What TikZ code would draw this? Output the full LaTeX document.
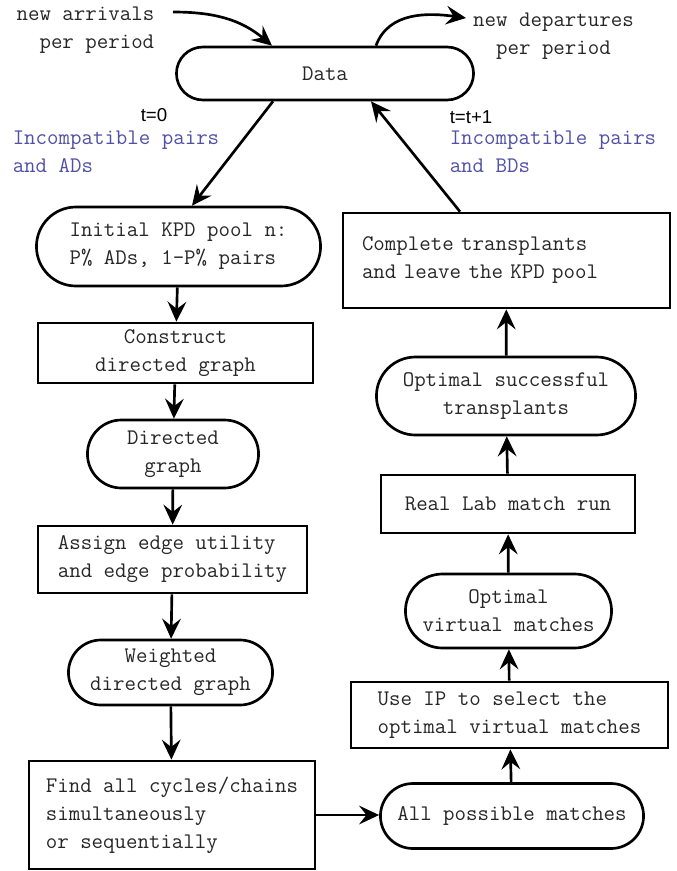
\documentclass[tikz,border=0pt]{standalone}
\usepackage{fontspec}
\setsansfont{Liberation Sans}
\usepackage{tikz}
\usetikzlibrary{calc,shapes.misc,arrows.meta}
\definecolor{pairblue}{RGB}{80,80,165}

\begin{document}
\begin{tikzpicture}[x=0.75pt,y=-0.75pt,line width=2pt,
  every node/.style={font=\ttfamily\fontsize{16.7}{21}\selectfont,text=black!85},
  box/.style={draw=black,rectangle,align=left},
  pill/.style={draw=black,rounded rectangle,align=center},
  tlabel/.style={font=\sffamily\fontsize{14}{16}\selectfont,text=black},
  blue/.style={text=pairblue,align=left},
  arr/.style={-{Stealth[length=15pt,width=14pt,inset=5.5pt]}}]
\useasboundingbox (0,0) rectangle (676,871);
% data node and outside flows
\node[pill,minimum width=229.5pt,minimum height=39.75pt](data) at (325,73.5){Data};
\node[anchor=east,align=right](arrivals) at (160,30.5){new arrivals\\per period};
\node[align=center](departures) at (553.5,36.5){new departures\\per period};
\coordinate (arrin) at (173,12);
\coordinate (depout) at (466,18);
\draw[arr](arrin) to[out=0,in=140] ($(data.north)+(-53,0)$);
\draw[arr]($(data.north)+(51,0)$) to[out=70,in=172] (depout);
\node[tlabel](t0) at (154,115){t=0};
\node[tlabel,anchor=west](t1) at (444,117){t=t+1};
\node[blue,anchor=west](inleft) at (7,151.5){Incompatible pairs\\and ADs};
\node[blue,anchor=west](inright) at (444,151.5){Incompatible pairs\\and BDs};
% left column
\node[pill,align=left,minimum width=219.75pt,minimum height=59.25pt](pool) at (178.5,246.5){Initial KPD pool n:\\P\% ADs, 1-P\% pairs};
\node[box,align=center,minimum width=206.25pt,minimum height=45pt](construct) at (175.5,353){Construct\\directed graph};
\node[pill,minimum width=135pt,minimum height=51pt](directed) at (173,454){Directed\\graph};
\node[box,minimum width=201.75pt,minimum height=50.25pt](assign) at (172.5,559.5){Assign edge utility\\and edge probability};
\node[pill,minimum width=159.75pt,minimum height=48.75pt](weighted) at (170.5,672.5){Weighted\\directed graph};
\node[box,minimum width=214.5pt,minimum height=81pt](find) at (172,815){Find all cycles/chains\\simultaneously\\or sequentially};
% right column
\node[pill,minimum width=204pt,minimum height=48.75pt](allpos) at (512,816){All possible matches};
\node[box,minimum width=237.75pt,minimum height=49.5pt](useip) at (509.5,715){Use IP to select the\\optimal virtual matches};
\node[pill,minimum width=161.25pt,minimum height=55.5pt](optvirt) at (508.5,611){Optimal\\virtual matches};
\node[box,align=center,minimum width=190.5pt,minimum height=43.5pt](reallab) at (508,504){Real Lab match run};
\node[pill,minimum width=201pt,minimum height=58.5pt](optsucc) at (506,396){Optimal successful\\transplants};
\node[box,text width=216.75pt,inner xsep=14.25pt,minimum height=71.25pt](complete) at (506.5,260.5){Complete transplants\\and leave the KPD pool};
% connectors
\draw[arr]($(data.south)+(-52,0)$)--($(pool.north)+(13.5,0)$);
\draw[arr](pool)--(construct);
\draw[arr](construct)--(directed);
\draw[arr](directed)--(assign);
\draw[arr](assign)--(weighted);
\draw[arr](weighted)--(find);
\draw[arr](find.east)--(find.east-|allpos.west);
\draw[arr](allpos)--(useip);
\draw[arr](useip)--(optvirt);
\draw[arr](optvirt)--(reallab);
\draw[arr](reallab)--(optsucc);
\draw[arr](optsucc)--(complete);
\draw[arr]($(complete.north)+(-46.5,0)$)--($(data.south)+(46,0)$);
\end{tikzpicture}
\end{document}
